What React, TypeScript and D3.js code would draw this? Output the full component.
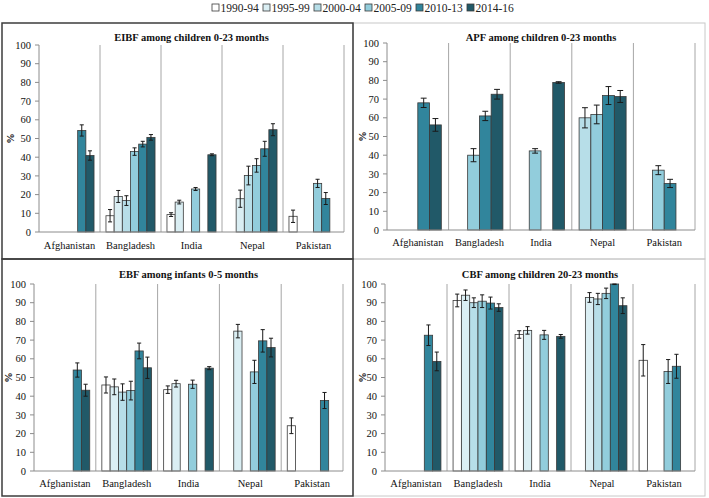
import React from "react";
import * as d3 from "d3";

const countries = ["Afghanistan", "Bangladesh", "India", "Nepal", "Pakistan"];
const periods = ["1990-94", "1995-99", "2000-04", "2005-09", "2010-13", "2014-16"];
const periodColors = ["#FFFFFF", "#DAEEF3", "#B7DEE8", "#92CDDC", "#31859C", "#215968"];
const yTicks = [0, 10, 20, 30, 40, 50, 60, 70, 80, 90, 100];

// rows = countries, columns = periods; null = no survey in that period
const eibfPeriods = periods;
const eibfValues = [
  [null, null, null, null, 54.3, 40.9],
  [8.7, 19, 16.8, 43, 47, 50.6],
  [9.3, 16, null, 23, null, 41.3],
  [null, 17.8, 30.2, 35.6, 44.5, 54.7],
  [8.4, null, null, 26, 17.9, null],
];
const eibfErrors = [
  [null, null, null, null, 3, 2.5],
  [3.3, 3.2, 2.6, 2, 1.5, 1.5],
  [1, 1, null, 0.8, null, 0.5],
  [null, 4.6, 5, 3.6, 4, 3.2],
  [3.3, null, null, 2.2, 3.2, null],
];

const apfPeriods = ["2000-04", "2005-09", "2010-13", "2014-16"];
const apfValues = [
  [null, null, 68, 56.2],
  [null, 40, 61, 72.6],
  [null, 42.3, null, 78.9],
  [60, 61.8, 71.9, 71.4],
  [null, 32, 24.9, null],
];
const apfErrors = [
  [null, null, 2.5, 3.4],
  [null, 3.5, 2.5, 2.6],
  [null, 1.2, null, 0.4],
  [5.4, 5, 4.8, 3.2],
  [null, 2.4, 2.2, null],
];

const ebfPeriods = periods;
const ebfValues = [
  [null, null, null, null, 54, 43.2],
  [46, 45, 42.2, 43, 64.2, 55.2],
  [43.5, 46.7, null, 46.4, null, 55],
  [null, 74.8, null, 53, 69.6, 66],
  [24.2, null, null, null, 37.7, null],
];
const ebfErrors = [
  [null, null, null, null, 3.8, 3.2],
  [4.3, 4.2, 4.4, 5, 4.2, 5.7],
  [2, 1.8, null, 2.2, null, 0.8],
  [null, 3.6, null, 6.2, 6, 5],
  [4.2, null, null, null, 4.3, null],
];

const cbfPeriods = periods;
const cbfValues = [
  [null, null, null, null, 72.6, 58.6],
  [91.2, 94, 90, 90.8, 89.8, 87.4],
  [73, 75.2, null, 72.8, null, 72],
  [null, 92.8, 92, 95, 100, 88.4],
  [59.2, null, null, 53.2, 56, null],
];
const cbfErrors = [
  [null, null, null, null, 5.5, 5],
  [3.4, 2.8, 2.6, 3.4, 3.2, 2],
  [2, 2, null, 2.4, null, 1],
  [null, 2.6, 3, 2.8, 0.3, 4.2],
  [8.4, null, null, 6.4, 6.4, null],
];

const FONT = "'Liberation Serif', 'Times New Roman', serif";
const AXIS_GRAY = "#8c8c8c";
const SEP_GRAY = "#a6a6a6";

type PanelProps = {
  title: string;
  series: string[];
  values: (number | null)[][];
  errors: (number | null)[][];
  x0: number;
  x1: number;
  yTop: number;
  yBottom: number;
  titleY: number;
  labelY: number;
  pctX: number;
  outerPad: number;
};

function Panel(p: PanelProps) {
  const y = d3.scaleLinear().domain([0, 100]).range([p.yBottom, p.yTop]);
  const xc = d3.scaleBand().domain(countries).range([p.x0, p.x1]).padding(0);
  const xs = d3
    .scaleBand()
    .domain(p.series)
    .range([0, xc.bandwidth()])
    .paddingInner(0)
    .paddingOuter(p.outerPad);
  const bw = xs.bandwidth();
  const cap = Math.max(3, bw * 0.5);
  const midX = (p.x0 + p.x1) / 2;
  const boundaries = countries.map((c) => (xc(c) as number) + xc.bandwidth());
  return (
    <g>
      <text
        x={midX}
        y={p.titleY}
        textAnchor="middle"
        fontFamily={FONT}
        fontWeight="bold"
        fontSize={10.5}
        fill="#111"
      >
        {p.title}
      </text>
      {boundaries.map((bx, i) => (
        <line key={"s" + i} x1={bx} x2={bx} y1={p.yTop} y2={p.yBottom} stroke={SEP_GRAY} strokeWidth={1} />
      ))}
      <line x1={p.x0} x2={p.x0} y1={p.yTop} y2={p.yBottom} stroke={AXIS_GRAY} strokeWidth={1} />
      {yTicks.map((t) => (
        <g key={"t" + t}>
          <line x1={p.x0 - 4} x2={p.x0} y1={y(t)} y2={y(t)} stroke={AXIS_GRAY} strokeWidth={1} />
          <text
            x={p.x0 - 8}
            y={y(t)}
            dy="0.35em"
            textAnchor="end"
            fontFamily={FONT}
            fontSize={10.5}
            fill="#111"
          >
            {t}
          </text>
        </g>
      ))}
      <text
        transform={`translate(${p.pctX},${(p.yTop + p.yBottom) / 2}) rotate(-90)`}
        textAnchor="middle"
        dy="0.35em"
        fontFamily={FONT}
        fontWeight="bold"
        fontSize={10.5}
        fill="#111"
      >
        %
      </text>
      {countries.map((c, ci) =>
        p.series.map((s, si) => {
          const v = p.values[ci][si];
          if (v === null || v === undefined) return null;
          const bx = (xc(c) as number) + (xs(s) as number);
          const colorIdx = periods.indexOf(s);
          return (
            <rect
              key={c + s}
              x={bx}
              y={y(v)}
              width={bw}
              height={y(0) - y(v)}
              fill={periodColors[colorIdx]}
              stroke="#3a3a3a"
              strokeWidth={0.8}
            />
          );
        })
      )}
      <line x1={p.x0} x2={p.x1} y1={p.yBottom} y2={p.yBottom} stroke={AXIS_GRAY} strokeWidth={1} />
      {countries.map((c, ci) =>
        p.series.map((s, si) => {
          const v = p.values[ci][si];
          const e = p.errors[ci][si];
          if (v === null || v === undefined || e === null || e === undefined) return null;
          const cx = (xc(c) as number) + (xs(s) as number) + bw / 2;
          const hi = Math.min(100, v + e);
          const lo = v - e;
          return (
            <g key={"e" + c + s} stroke="#1a1a1a" strokeWidth={1}>
              <line x1={cx} x2={cx} y1={y(hi)} y2={y(lo)} />
              <line x1={cx - cap / 2} x2={cx + cap / 2} y1={y(hi)} y2={y(hi)} />
              <line x1={cx - cap / 2} x2={cx + cap / 2} y1={y(lo)} y2={y(lo)} />
            </g>
          );
        })
      )}
      {countries.map((c) => (
        <text
          key={"l" + c}
          x={(xc(c) as number) + xc.bandwidth() / 2}
          y={p.labelY}
          textAnchor="middle"
          fontFamily={FONT}
          fontSize={10.5}
          fill="#111"
        >
          {c}
        </text>
      ))}
    </g>
  );
}

export default function App() {
  const legendX = 212;
  const legendStep = 51;
  return (
    <svg
      width={709}
      height={498}
      style={{ position: "absolute", left: 0, top: 0, background: "#fff" }}
    >
      <rect x={0} y={0} width={709} height={498} fill="#fff" />
      {periods.map((pname, i) => (
        <g key={pname}>
          <rect
            x={legendX + i * legendStep}
            y={4}
            width={7}
            height={7}
            fill={periodColors[i]}
            stroke="#3a3a3a"
            strokeWidth={0.8}
          />
          <text
            x={legendX + i * legendStep + 8.5}
            y={12}
            fontFamily={FONT}
            fontSize={11.5}
            fill="#222"
          >
            {pname}
          </text>
        </g>
      ))}
      <rect x={353} y={23} width={352} height={236} fill="none" stroke="#c8c8c8" strokeWidth={1} />
      <rect x={353} y={259} width={352} height={237} fill="none" stroke="#c8c8c8" strokeWidth={1} />
      <rect x={2} y={23} width={351} height={236} fill="none" stroke="#3c3c3c" strokeWidth={1.5} />
      <rect x={2} y={259} width={351} height={237} fill="none" stroke="#3c3c3c" strokeWidth={1.5} />

      <Panel
        title="EIBF among children 0-23 months"
        series={eibfPeriods}
        values={eibfValues}
        errors={eibfErrors}
        x0={39}
        x1={344}
        yTop={45}
        yBottom={232}
        titleY={40.5}
        labelY={249}
        pctX={10}
        outerPad={0.73}
      />
      <Panel
        title="APF among children 0-23 months"
        series={apfPeriods}
        values={apfValues}
        errors={apfErrors}
        x0={387}
        x1={695}
        yTop={43}
        yBottom={230}
        titleY={40.5}
        labelY={246}
        pctX={362}
        outerPad={0.62}
      />
      <Panel
        title="EBF among infants 0-5 months"
        series={ebfPeriods}
        values={ebfValues}
        errors={ebfErrors}
        x0={34}
        x1={343}
        yTop={284}
        yBottom={471}
        titleY={277.5}
        labelY={487}
        pctX={8}
        outerPad={0.73}
      />
      <Panel
        title="CBF among children 20-23 months"
        series={cbfPeriods}
        values={cbfValues}
        errors={cbfErrors}
        x0={385}
        x1={695}
        yTop={284}
        yBottom={471}
        titleY={277.5}
        labelY={487}
        pctX={362}
        outerPad={0.73}
      />
    </svg>
  );
}
